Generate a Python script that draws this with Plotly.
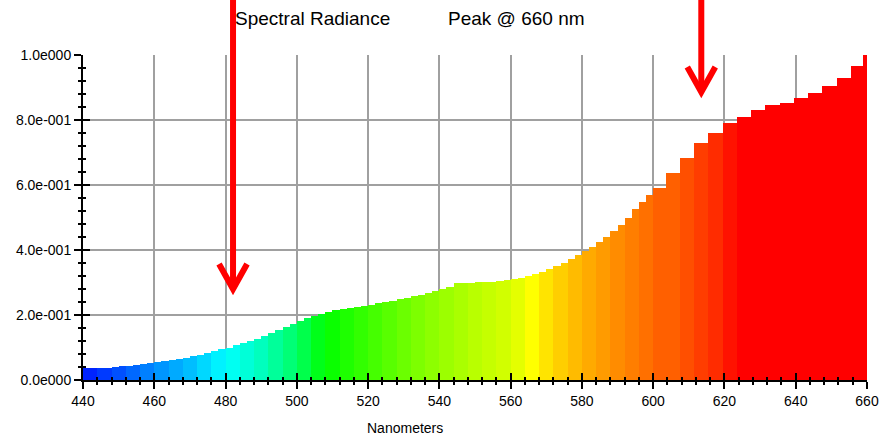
import numpy as np
import plotly.graph_objects as go

# ---------------- data ----------------
# left edge of each step of the spectrum (nm)
wl_edges = list(range(440, 601, 2)) + [603.5, 607.5, 611.5, 615.5, 619.5, 623.5,
                                       627.5, 631.5, 635.5, 639.5, 643.5, 647.5,
                                       651.5, 655.5, 659]
wl_end = 660
radiance = [
    0.036, 0.036, 0.037, 0.038, 0.041, 0.042, 0.044, 0.046, 0.049, 0.051,   # 440-458
    0.054, 0.058, 0.061, 0.065, 0.069, 0.073, 0.078, 0.083, 0.088, 0.094,   # 460-478
    0.100, 0.107, 0.114, 0.120, 0.127, 0.136, 0.145, 0.154, 0.163, 0.172,   # 480-498
    0.181, 0.190, 0.197, 0.203, 0.210, 0.215, 0.220, 0.222, 0.225, 0.228,   # 500-518
    0.232, 0.236, 0.240, 0.244, 0.249, 0.253, 0.258, 0.262, 0.267, 0.273,   # 520-538
    0.279, 0.286, 0.297, 0.298, 0.299, 0.302, 0.303, 0.303, 0.305, 0.308,   # 540-558
    0.311, 0.314, 0.319, 0.325, 0.333, 0.341, 0.350, 0.360, 0.371, 0.384,   # 560-578
    0.398, 0.410, 0.425, 0.440, 0.458, 0.478, 0.500, 0.525, 0.548, 0.568,   # 580-598
    0.590,                                                                   # 600
    0.638, 0.684, 0.728, 0.759, 0.790, 0.810, 0.830, 0.846, 0.851, 0.869,   # 603.5-639.5
    0.884, 0.905, 0.930, 0.967, 1.000,                                       # 643.5-659
]

x_ticks = [440, 460, 480, 500, 520, 540, 560, 580, 600, 620, 640, 660]
x_ticktext = [str(v) for v in x_ticks]
y_ticks = [0.0, 0.2, 0.4, 0.6, 0.8, 1.0]
y_ticktext = ["0.0e000", "2.0e-001", "4.0e-001", "6.0e-001", "8.0e-001", "1.0e000"]

title_left = "Spectral Radiance"
title_right = "Peak @ 660 nm"
x_title = "Nanometers"

# arrows: wavelength of shaft and radiance of tip
arrow_wl = [482.1, 613.5]
arrow_tip = [0.28, 0.886]

# ---------------- style ----------------
spec_anchors = [
    (440, (0, 24, 255)), (450, (0, 80, 255)), (460, (0, 140, 255)),
    (470, (0, 190, 255)), (480, (0, 255, 255)), (490, (0, 255, 190)),
    (500, (0, 255, 100)), (508, (0, 255, 0)), (520, (60, 255, 0)),
    (535, (130, 255, 0)), (550, (185, 255, 0)), (560, (215, 255, 0)),
    (566, (255, 255, 0)), (572, (255, 215, 0)), (580, (255, 178, 0)),
    (590, (255, 140, 0)), (600, (255, 105, 0)), (608, (255, 70, 0)),
    (616, (255, 35, 0)), (620, (255, 0, 0)), (660, (255, 0, 0)),
]


def spec_color(w):
    band = np.floor((w - 440) / 4.0) * 4 + 442
    if w >= 620:
        band = 640
    xs = [a[0] for a in spec_anchors]
    rgb = [int(round(np.interp(band, xs, [a[1][i] for a in spec_anchors]))) for i in range(3)]
    return "rgb(%d,%d,%d)" % tuple(rgb)


edges = np.array(wl_edges, dtype=float)
widths = np.diff(np.append(edges, wl_end))
colors = [spec_color(w) for w in edges]

FONT = "Liberation Sans, Arial, sans-serif"
GRID = "#a0a0a0"

fig = go.Figure()
fig.add_trace(go.Bar(
    x=edges, y=radiance, width=widths, offset=0,
    marker=dict(color=colors, line=dict(width=0)),
    hoverinfo="skip", showlegend=False,
))
# dummy trace for the overlay axes (inside half of crossing ticks)
fig.add_trace(go.Scatter(x=[440], y=[0], xaxis="x2", yaxis="y2", mode="markers",
                         marker=dict(opacity=0), hoverinfo="skip", showlegend=False))

fig.update_layout(
    width=881, height=437,
    margin=dict(l=83, r=14, t=55, b=57, autoexpand=False),
    paper_bgcolor="white", plot_bgcolor="white",
    bargap=0,
    font=dict(family=FONT, color="black", size=14),
    xaxis=dict(
        range=[440, 660], tickmode="array", tickvals=x_ticks, ticktext=x_ticktext,
        showgrid=True, gridcolor=GRID, gridwidth=2, zeroline=False,
        showline=True, linecolor="black", linewidth=2, automargin=False,
        ticks="outside", ticklen=7, tickwidth=2, tickcolor="black",
        minor=dict(dtick=4, tick0=440, ticks="outside", ticklen=3, tickwidth=2,
                   tickcolor="black", showgrid=False),
        tickfont=dict(size=14, family=FONT), fixedrange=True,
    ),
    yaxis=dict(
        range=[0, 1.0], tickmode="array", tickvals=y_ticks, ticktext=y_ticktext,
        showgrid=True, gridcolor=GRID, gridwidth=2, zeroline=False,
        showline=True, linecolor="black", linewidth=2, automargin=False,
        ticks="outside", ticklen=7, tickwidth=2, tickcolor="black",
        minor=dict(dtick=0.04, tick0=0, ticks="outside", ticklen=3, tickwidth=2,
                   tickcolor="black", showgrid=False),
        tickfont=dict(size=14, family=FONT), fixedrange=True,
    ),
    xaxis2=dict(
        range=[440, 660], overlaying="x", anchor="y2", side="bottom",
        tickmode="array", tickvals=x_ticks, showticklabels=False, automargin=False,
        showgrid=False, zeroline=False, showline=False,
        ticks="inside", ticklen=7, tickwidth=2, tickcolor="black",
        minor=dict(dtick=4, tick0=440, ticks="inside", ticklen=3, tickwidth=2,
                   tickcolor="black", showgrid=False),
        fixedrange=True,
    ),
    yaxis2=dict(
        range=[0, 1.0], overlaying="y", anchor="x2", side="left",
        tickmode="array", tickvals=y_ticks, showticklabels=False, automargin=False,
        showgrid=False, zeroline=False, showline=False,
        ticks="inside", ticklen=7, tickwidth=2, tickcolor="black",
        minor=dict(dtick=0.04, tick0=0, ticks="inside", ticklen=3, tickwidth=2,
                   tickcolor="black", showgrid=False),
        fixedrange=True,
    ),
)

# titles
fig.add_annotation(text=title_left, xref="paper", yref="paper", x=0.191, y=1.111,
                   xanchor="left", yanchor="middle", showarrow=False,
                   font=dict(size=19, family=FONT, color="black"))
fig.add_annotation(text=title_right, xref="paper", yref="paper", x=0.463, y=1.111,
                   xanchor="left", yanchor="middle", showarrow=False,
                   font=dict(size=19, family=FONT, color="black"))
fig.add_annotation(text=x_title, xref="paper", yref="paper", x=0.411, y=-0.149,
                   xanchor="center", yanchor="middle", showarrow=False,
                   font=dict(size=14, family=FONT, color="black"))

# red arrows (paper coordinates derived from data positions)
for w, tip in zip(arrow_wl, arrow_tip):
    xp = (w - 440) / (660 - 440)
    top = 1.2
    fig.add_shape(type="line", xref="paper", yref="paper",
                  x0=xp, x1=xp, y0=top, y1=tip + 0.01,
                  line=dict(color="#ff0000", width=6))
    dx, dy = 14 / 784, 25 / 325
    fig.add_shape(type="path", xref="paper", yref="paper",
                  path="M %f,%f L %f,%f L %f,%f" % (xp - dx, tip + dy, xp, tip, xp + dx, tip + dy),
                  line=dict(color="#ff0000", width=6))

fig.write_html("out.html")
